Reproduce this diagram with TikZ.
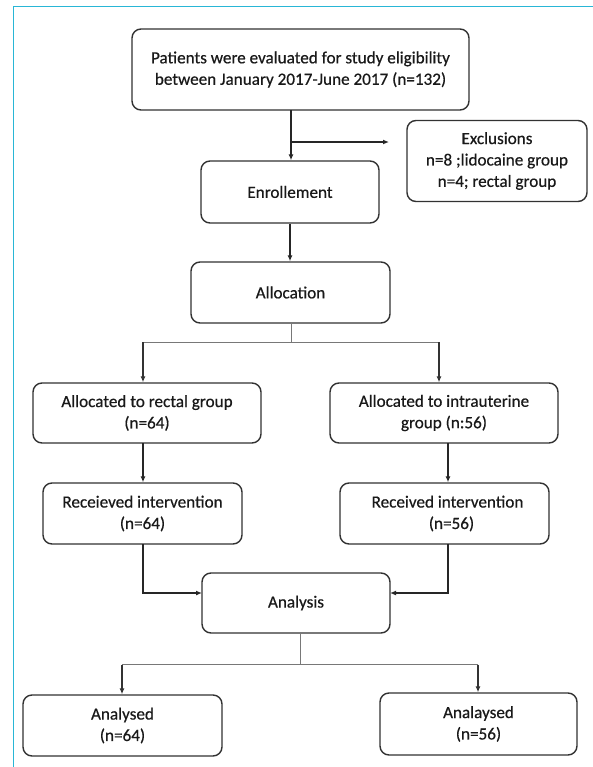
\documentclass[tikz,border=0pt]{standalone}
\usepackage{fontspec}
\setmainfont{Carlito}
\newfontfamily\diagfont{Carlito}[FakeBold=0.5]
\usetikzlibrary{arrows.meta}
\definecolor{frame}{RGB}{41,182,214}
\definecolor{boxline}{RGB}{50,50,50}
\definecolor{thinline}{RGB}{120,120,120}
\tikzset{
  box/.style={draw=boxline, line width=1.4bp, rounded corners=9bp, align=center,
    inner sep=0pt, font=\diagfont\fontsize{17.2}{21.5}\selectfont, text=black!90},
  arr/.style={draw=black!85, line width=1.5bp, -{Latex[length=6bp,width=5bp]}},
  thin/.style={draw=thinline, line width=0.8bp},
  thinarr/.style={draw=black!80, line width=1.1bp, -{Latex[length=6bp,width=5bp]}}
}
\begin{document}
\begin{tikzpicture}[x=1bp,y=-1bp]
\useasboundingbox (0,0) rectangle (593,767);
\fill[white] (0,0) rectangle (593,767);
\draw[frame, line width=1.6bp] (13.5,767) -- (13.5,6.5) -- (593,6.5);

\node[box, minimum width=337bp, minimum height=81bp] (top) at (300.5,69.5)
  {Patients were evaluated for study eligibility\\between January 2017-June 2017 (n=132)};
\node[box, minimum width=180bp, minimum height=81bp] (excl) at (497,161)
  {Exclusions\\n=8 ;lidocaine group\\n=4; rectal group};
\node[box, minimum width=178bp, minimum height=62bp] (enroll) at (290,192) {Enrollement};
\node[box, minimum width=199bp, minimum height=61bp] (alloc) at (290.5,292.5) {Allocation};
\node[box, minimum width=228bp, minimum height=60bp] (rectal) at (147,413)
  {Allocated to rectal group\\(n=64)};
\node[box, minimum width=228bp, minimum height=60bp] (intra) at (444,413)
  {Allocated to intrauterine\\group (n:56)};
\node[box, minimum width=199bp, minimum height=61bp] (recL) at (142.5,513.5)
  {Receieved intervention\\(n=64)};
\node[box, minimum width=209bp, minimum height=61bp] (recR) at (444.5,513.5)
  {\hspace*{6bp}Received intervention\\\hspace*{14bp}(n=56)};
\node[box, minimum width=188bp, minimum height=60bp] (ana) at (296,603) {Analysis};
\node[box, minimum width=199bp, minimum height=61bp] (anL) at (122.5,725.5)
  {Analysed\\(n=64)};
\node[box, minimum width=197bp, minimum height=62bp] (anR) at (478.5,724)
  {Analaysed\\(n=56)};

% top -> enrollment, with exclusion branch
\coordinate (t0) at (291,110);
\coordinate (ex0) at (291,142);
\coordinate (ex1) at (389,142);
\draw[arr] (t0) -- (t0 |- enroll.north);
\draw[arr] (ex0) -- (ex1);
\draw[arr] (enroll.south) -- (enroll.south |- alloc.north);

% allocation split
\coordinate (a0) at (291,323);
\coordinate (a1) at (291,342);
\coordinate (aL) at (143,342);
\coordinate (aR) at (439,342);
\draw[thin] (a0) -- (a1);
\draw[thin] (aL) -- (aR);
\draw[thinarr] (aL) -- (aL |- rectal.north);
\draw[thinarr] (aR) -- (aR |- intra.north);

% allocated -> received
\coordinate (rl) at (143,443);
\coordinate (rr) at (448,443);
\draw[arr] (rl) -- (rl |- recL.north);
\draw[arr] (rr) -- (rr |- recR.north);

% received -> analysis
\coordinate (ql) at (143,544);
\coordinate (qr) at (448,544);
\coordinate (al) at (202,593);
\coordinate (ar) at (390,593);
\draw[arr] (ql) |- (al);
\draw[arr] (qr) |- (ar);

% analysis split
\coordinate (b0) at (300,633);
\coordinate (b1) at (300,664.5);
\coordinate (bL) at (122,664.5);
\coordinate (bR) at (478,664.5);
\draw[thin] (b0) -- (b1);
\draw[thin] (bL) -- (bR);
\draw[thinarr] (bL) -- (bL |- anL.north);
\draw[thinarr] (bR) -- (bR |- anR.north);
\end{tikzpicture}
\end{document}
